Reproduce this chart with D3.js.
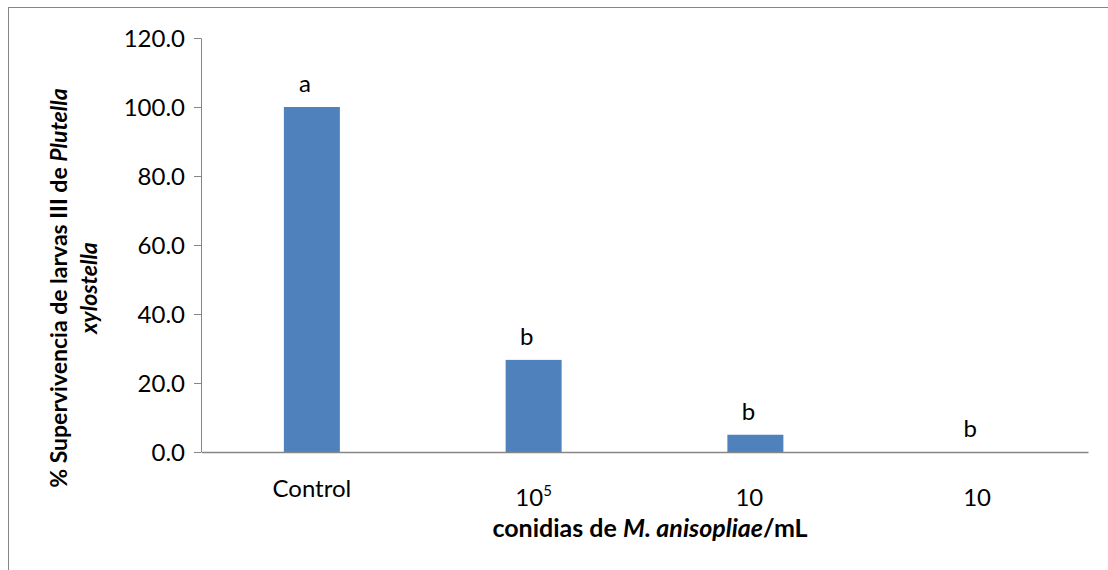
<!DOCTYPE html>
<html>
<head>
  <meta charset="utf-8">
  <script src="https://cdn.jsdelivr.net/npm/d3@7/dist/d3.min.js"></script>
  <style>
    body { margin: 0; background: #fff; font-family: Lato, "Open Sans", sans-serif; }
  </style>
</head>
<body>
  <div id="container"></div>
  <script>
    // data
    const categories = ["Control", "10^5", "10", "10"];
    const survival = [100.0, 26.7, 5.0, 0.0];
    const letters = ["a", "b", "b", "b"];
    const yTicks = [0, 20, 40, 60, 80, 100, 120];

    const width = 1108, height = 570;
    const plot = { left: 201, right: 1088, top: 38, bottom: 452 };
    const axisColor = "#868686";

    const svg = d3.select("#container").append("svg")
      .attr("width", width)
      .attr("height", height);

    // outer chart frame
    svg.append("rect")
      .attr("x", 8.5).attr("y", 7.5)
      .attr("width", 1120).attr("height", 600)
      .attr("fill", "none")
      .attr("stroke", axisColor);

    const x = d3.scaleBand()
      .domain(d3.range(categories.length))
      .range([plot.left, plot.right]);

    const y = d3.scaleLinear()
      .domain([0, 120])
      .range([plot.bottom, plot.top]);

    const barWidth = 56;

    svg.append("g").selectAll("rect")
      .data(survival)
      .join("rect")
      .attr("x", (d, i) => x(i) + x.bandwidth() / 2 - barWidth / 2)
      .attr("y", d => y(d))
      .attr("width", barWidth)
      .attr("height", d => y(0) - y(d))
      .attr("fill", "#4F81BD");

    // significance letters
    svg.append("g").selectAll("text")
      .data(letters)
      .join("text")
      .attr("x", (d, i) => x(i) + x.bandwidth() / 2 - 7)
      .attr("y", (d, i) => y(survival[i]) - 15)
      .attr("text-anchor", "middle")
      .style("font-size", "24px")
      .text(d => d);

    // y axis
    const yAxis = svg.append("g")
      .attr("transform", `translate(${plot.left},0)`)
      .call(d3.axisLeft(y).tickValues(yTicks).tickSize(7).tickPadding(9)
        .tickFormat(d3.format(".1f")));
    yAxis.select(".domain").attr("stroke", axisColor).attr("d", `M-7,${plot.top + 0.5}H0.5V${plot.bottom}`);
    yAxis.selectAll(".tick line").attr("stroke", axisColor);
    yAxis.selectAll(".tick text")
      .attr("fill", "#000")
      .attr("dy", "0.36em")
      .style("font-size", "24px")
      .style("font-family", "Lato, sans-serif");

    // x axis (no ticks)
    const xAxis = svg.append("g")
      .attr("transform", `translate(0,${plot.bottom})`)
      .call(d3.axisBottom(x).tickSize(0).tickFormat(""));
    xAxis.select(".domain").attr("stroke", axisColor).attr("stroke-width", 1.5);

    const xLab = svg.append("g").selectAll("text")
      .data(categories)
      .join("text")
      .attr("x", (d, i) => x(i) + x.bandwidth() / 2 - (i === 2 ? 6 : 0))
      .attr("y", (d, i) => i === 0 ? 497 : 506)
      .attr("text-anchor", "middle")
      .style("font-size", "24px");
    xLab.each(function(d) {
      const t = d3.select(this);
      if (d.includes("^")) {
        const [base, exp] = d.split("^");
        t.append("tspan").text(base);
        t.append("tspan").attr("dy", -10).style("font-size", "15px").text(exp);
      } else {
        t.text(d);
      }
    });

    // x axis title
    const xt = svg.append("text")
      .attr("x", 650).attr("y", 537)
      .attr("text-anchor", "middle")
      .style("font-size", "25px")
      .style("font-weight", "bold");
    xt.append("tspan").text("conidias de ");
    xt.append("tspan").style("font-style", "italic").text("M. anisopliae");
    xt.append("tspan").text("/mL");

    // y axis title, two lines
    const yt = svg.append("text")
      .attr("transform", "translate(67,288) rotate(-90)")
      .attr("text-anchor", "middle")
      .style("font-size", "23px")
      .style("font-weight", "bold");
    yt.append("tspan").text("% Supervivencia de larvas III de ");
    yt.append("tspan").style("font-style", "italic").text("Plutella");
    svg.append("text")
      .attr("transform", "translate(97,288) rotate(-90)")
      .attr("text-anchor", "middle")
      .style("font-size", "23px")
      .style("font-weight", "bold")
      .style("font-style", "italic")
      .text("xylostella");
  </script>
</body>
</html>
